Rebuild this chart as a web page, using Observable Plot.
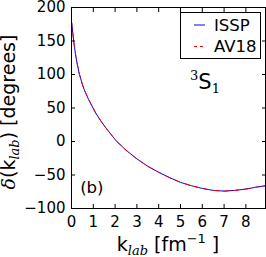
<!DOCTYPE html>
<html>
<head>
<meta charset="utf-8">
<script src="https://cdn.jsdelivr.net/npm/d3@7"></script>
<script src="https://cdn.jsdelivr.net/npm/@observablehq/plot@0.6"></script>
<style>
  html, body { margin: 0; padding: 0; background: #fff; }
  svg { display: block; }
</style>
</head>
<body>
<div id="chart"></div>
<script>
// k_lab [fm^-1]
const kLab = [0.01, 0.03, 0.06, 0.1, 0.15, 0.2, 0.25, 0.35, 0.5, 0.6, 0.78, 1.1, 1.34, 1.55, 1.9, 2.05, 2.5, 3, 3.5, 4, 4.5, 5, 5.5, 6, 6.5, 7, 7.5, 8, 8.5, 8.9];
// phase shift [degrees]
const isspDelta = [177, 171, 162, 150, 138, 127, 118, 102, 85, 76, 63, 43, 31, 21.5, 7, 1, -13, -26, -37, -46, -54, -61, -66, -70, -73, -74, -73, -71, -68, -66];
const av18Delta = [177, 171, 162, 150, 138, 127, 118, 102, 85, 76, 63, 43, 31, 21.5, 7, 1, -13, -26, -37, -46, -54, -61, -66, -70, -73, -74, -73, -71, -68, -66];
const xTicks = [0, 1, 2, 3, 4, 5, 6, 7, 8];
const yTicks = [-100, -50, 0, 50, 100, 150, 200];
const seriesNames = ["ISSP", "AV18"];

const issp = kLab.map((k, i) => ({k, d: isspDelta[i]}));
const av18 = kLab.map((k, i) => ({k, d: av18Delta[i]}));

const font = "DejaVu Sans, sans-serif";
const serif = "DejaVu Serif, serif";

const plot = Plot.plot({
  width: 266,
  height: 257,
  marginLeft: 71,
  marginRight: 1,
  marginTop: 7,
  marginBottom: 49,
  style: {fontFamily: font, background: "white", color: "black"},
  x: {domain: [0, 8.9]},
  y: {domain: [-100, 200]},
  marks: [
    Plot.line(issp, {x: "k", y: "d", stroke: "#0000ff", strokeWidth: 1}),
    Plot.line(av18, {x: "k", y: "d", stroke: "#ff0000", strokeWidth: 1, strokeDasharray: "5,5"}),
    Plot.frame({stroke: "black", strokeWidth: 1}),
    // inward ticks on all four sides
    Plot.axisX(xTicks, {anchor: "bottom", tickSize: 4, dy: -4, fill: "none", label: null, stroke: "black"}),
    Plot.axisX(xTicks, {anchor: "top", tickSize: 4, dy: 4, fill: "none", label: null, stroke: "black"}),
    Plot.axisY(yTicks, {anchor: "left", tickSize: 4, dx: 4, fill: "none", label: null, stroke: "black"}),
    Plot.axisY(yTicks, {anchor: "right", tickSize: 4, dx: -4, fill: "none", label: null, stroke: "black"}),
    // tick labels
    Plot.axisX(xTicks, {anchor: "bottom", tickSize: 0, tickPadding: 8, label: null, fontSize: 15, fill: "black"}),
    Plot.axisY(yTicks, {anchor: "left", tickSize: 0, tickPadding: 6, label: null, fontSize: 15, fill: "black"})
  ]
});

document.getElementById("chart").appendChild(plot);
const svg = d3.select(plot);

// legend
const lg = svg.append("g").attr("text-anchor", "start");
lg.append("rect").attr("x", 180.5).attr("y", 12.5).attr("width", 80).attr("height", 46)
  .attr("fill", "white").attr("stroke", "black").attr("stroke-width", 1);
lg.append("line").attr("x1", 194).attr("x2", 205).attr("y1", 25).attr("y2", 25)
  .attr("stroke", "#0000ff").attr("stroke-width", 1);
lg.append("line").attr("x1", 194).attr("x2", 205).attr("y1", 46.5).attr("y2", 46.5)
  .attr("stroke", "#ff0000").attr("stroke-width", 1).attr("stroke-dasharray", "3,3");
lg.append("text").attr("x", 214).attr("y", 30.5).attr("font-family", font).attr("font-size", 16.5).text(seriesNames[0]);
lg.append("text").attr("x", 214).attr("y", 52).attr("font-family", font).attr("font-size", 16.5).text(seriesNames[1]);

// 3S1 annotation
const s = svg.append("text").attr("text-anchor", "start").attr("x", 190).attr("y", 89.3).attr("font-family", font).attr("font-size", 21);
s.append("tspan").attr("font-family", serif).attr("font-size", 13).attr("dy", -9).text("3");
s.append("tspan").attr("dy", 9).text("S");
s.append("tspan").attr("font-family", serif).attr("font-size", 13).attr("dy", 4).text("1");

// (b)
svg.append("text").attr("text-anchor", "start").attr("x", 80.2).attr("y", 192.5).attr("font-family", font).attr("font-size", 16.5).text("(b)");

// x label
const xl = svg.append("text").attr("x", 168).attr("y", 251).attr("text-anchor", "middle")
  .attr("font-family", font).attr("font-size", 19);
xl.append("tspan").text("k");
xl.append("tspan").attr("font-family", serif).attr("font-style", "italic").attr("font-size", 13).attr("dy", 4).text("lab");
xl.append("tspan").attr("dy", -4).text(" [fm");
xl.append("tspan").attr("font-size", 13).attr("dy", -8).text("−1");
xl.append("tspan").attr("dy", 8).text(" ]");

// y label
const yl = svg.append("text").attr("transform", "translate(15,112) rotate(-90)").attr("text-anchor", "middle")
  .attr("font-family", font).attr("font-size", 19);
yl.append("tspan").attr("font-family", serif).attr("font-style", "italic").text("δ");
yl.append("tspan").text("(k");
yl.append("tspan").attr("font-family", serif).attr("font-style", "italic").attr("font-size", 13).attr("dy", 4).text("lab");
yl.append("tspan").attr("dy", -4).text(") [degrees]");
</script>
</body>
</html>
